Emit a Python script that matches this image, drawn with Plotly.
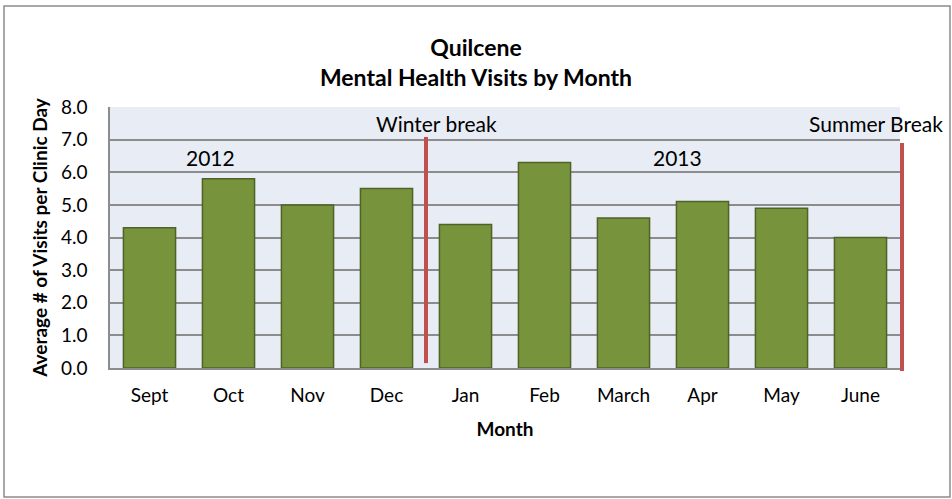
import plotly.graph_objects as go

months = ["Sept", "Oct", "Nov", "Dec", "Jan", "Feb", "March", "Apr", "May", "June"]
visits = [4.3, 5.8, 5.0, 5.5, 4.4, 6.3, 4.6, 5.1, 4.9, 4.0]
year_labels = ["2012", "2013"]
break_labels = ["Winter break", "Summer Break"]

FONT = "Lato, 'Open Sans', sans-serif"

fig = go.Figure()
fig.add_trace(go.Bar(
    x=months, y=visits,
    marker=dict(color="#77933C", line=dict(color="#4F6228", width=1.5)),
    width=0.66,
))

L, R, T, B = 110, 900, 107, 368
W, H = 952, 499
def px(x):
    return (x - L) / (R - L)
def py(y):
    return (B - y) / (B - T)

shapes = [
    # outer chart border
    dict(type="rect", xref="paper", yref="paper", x0=px(4), x1=px(950), y0=py(497), y1=py(6),
         line=dict(color="#8C8C8C", width=1.5), fillcolor="rgba(0,0,0,0)", layer="below"),
    # break lines
    dict(type="line", xref="x", yref="y", x0=3.5, x1=3.5, y0=0.15, y1=7.08,
         line=dict(color="#C0504D", width=4)),
    dict(type="line", xref="paper", yref="paper", x0=px(902), x1=px(902), y0=py(371), y1=py(143),
         line=dict(color="#C0504D", width=4)),
]

annotations = [
    dict(x=0.77, y=6.44, xref="x", yref="y", text=year_labels[0], showarrow=False,
         font=dict(size=21, color="black", family=FONT)),
    dict(x=6.68, y=6.44, xref="x", yref="y", text=year_labels[1], showarrow=False,
         font=dict(size=21, color="black", family=FONT)),
    dict(x=3.63, y=7.48, xref="x", yref="y", text=break_labels[0], showarrow=False,
         font=dict(size=21, color="black", family=FONT)),
    dict(x=9.2, y=7.48, xref="x", yref="y", text=break_labels[1], showarrow=False,
         font=dict(size=21, color="black", family=FONT)),
]

fig.update_layout(
    width=W, height=H,
    margin=dict(l=L, r=W - R, t=T, b=H - B),
    paper_bgcolor="white",
    plot_bgcolor="#E8ECF4",
    showlegend=False,
    title=dict(text="<b>Quilcene<br>Mental Health Visits by Month</b>", x=0.5, xanchor="center",
               y=1 - 56 / H, yanchor="middle",
               font=dict(size=23, color="black", family=FONT)),
    font=dict(family=FONT, color="black", size=19),
    shapes=shapes,
    annotations=annotations,
    bargap=0.34,
)
fig.update_xaxes(
    range=[-0.5, 9.5], showgrid=False, showline=True, linecolor="#8C8C8C", linewidth=1.5,
    tickfont=dict(size=19, color="black", family=FONT), ticks="", ticklabelstandoff=9,
    title=dict(text="<b>Month</b>", font=dict(size=19, color="black", family=FONT), standoff=18),
)
fig.update_yaxes(
    range=[0, 8], dtick=1, tickformat=".1f", showgrid=True, gridcolor="#8C8C8C", gridwidth=1.5,
    showline=True, linecolor="#8C8C8C", linewidth=1.5, zeroline=False,
    ticks="", ticklabelstandoff=17,
    tickfont=dict(size=19, color="black", family=FONT),
    title=dict(text="<b>Average # of Visits per Clinic Day</b>", font=dict(size=19, color="black", family=FONT), standoff=8),
)

fig.write_html("out.html", config={"displayModeBar": False},
               post_script="document.body.style.margin='0';document.body.style.padding='0';")
